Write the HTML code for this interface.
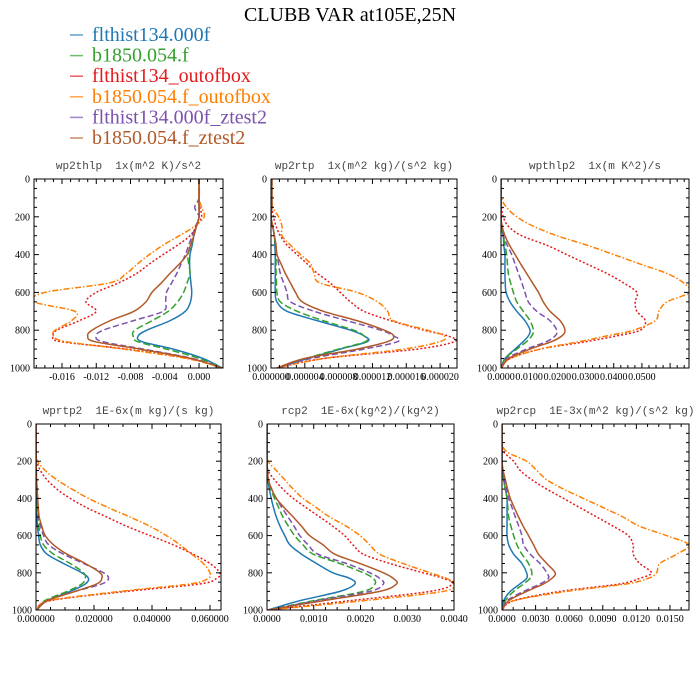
<!DOCTYPE html>
<html><head><meta charset="utf-8"><style>
body{margin:0;background:#fff;width:700px;height:700px;overflow:hidden}
svg{display:block}
.ttl{font-family:"Liberation Serif",serif;font-size:20px;fill:#000}
.leg{font-family:"Liberation Serif",serif;font-size:20px}
.pt{font-family:"Liberation Mono",monospace;font-size:11px;fill:#444;white-space:pre}
.tk{font-family:"Liberation Serif",serif;font-size:10px;fill:#000}
</style></head><body>
<svg id="chart" width="700" height="700" viewBox="0 0 700 700">
<text class="ttl" x="350" y="21" text-anchor="middle">CLUBB VAR at105E,25N</text>
<g id="legend"></g>
<g id="panels"></g>
</svg>
<script>
const seriesNames = ["flthist134.000f","b1850.054.f","flthist134_outofbox","b1850.054.f_outofbox","flthist134.000f_ztest2","b1850.054.f_ztest2"];
const levels = [0,100,150,200,250,300,350,400,450,500,550,600,650,700,750,800,830,860,900,950,1000];
const yTicks = [0,200,400,600,800,1000];

const wp2thlpValues = [
[0,0,0,0,-0.3,-0.6,-0.8,-1.05,-1.1,-1.05,-0.95,-0.85,-1.0,-1.6,-3.4,-6.1,-7.1,-6.7,-3.0,0.5,2.7],
[0,0,0,0,-0.3,-0.6,-0.9,-1.3,-1.2,-1.05,-1.4,-1.8,-2.5,-3.6,-5.5,-7.5,-7.7,-7.2,-3.8,0.1,2.7],
[0,0,0.1,0.3,-0.3,-1.05,-2.5,-4.2,-5.8,-7.3,-9.4,-12,-13.2,-12,-14,-16.6,-17,-16.2,-8.4,-1.05,2.7],
[0,0,0.3,0.6,-0.5,-2.3,-4.2,-5.8,-7.2,-8.5,-10.5,-18,-19.2,-14.5,-14.9,-16.8,-17,-15.6,-8.8,-1.4,2.7],
[0,0,-0.5,0,-0.4,-0.8,-1.2,-1.6,-2.1,-2.6,-3.2,-3.8,-3.9,-4.2,-7.7,-11.2,-12,-11.3,-6.5,-0.7,2.7],
[0,0,0,0,-0.3,-0.6,-1.0,-1.4,-2.3,-3.4,-4.4,-5.5,-6.2,-7.6,-10.4,-12.5,-13,-12.2,-6.9,-0.9,2.7]];
const wp2rtpValues = [
[0.1,0.1,0.1,0,0.2,0.4,0.45,0.5,0.5,0.5,0.5,0.5,0.7,1.9,5.5,9.4,11,11.4,8.2,4.3,0.7],
[0.1,0.1,0.1,0,0.2,0.4,0.5,0.6,0.6,0.6,0.65,0.7,1.1,3.1,6.2,9.8,11,11.2,8,4.1,0.7],
[0.1,0.1,0.1,0.3,0.6,1.1,1.9,3.1,4.3,5.5,7,8.2,9.4,11,14.2,18.1,20.9,21.7,17.3,6.2,0.7],
[0.1,0.1,0.2,0.9,1.3,1.3,2.3,3.5,4.7,5.1,5.8,10.2,12.6,13.8,14.5,18.5,20.5,20,15.7,6.2,0.7],
[0.1,0.1,0.1,0,0.2,0.4,0.55,0.7,0.9,1.1,1.5,1.9,2.3,5.1,9,13,14.5,15,11,4.7,0.7],
[0.1,0.1,0.1,0,0.2,0.4,0.6,0.7,1.2,1.7,2.3,2.9,3.7,6.2,10.2,13.4,14.5,13.8,10.2,3.9,0.7]];
const wpthlp2Values = [
[0,0,0,0,0,0.08,0.1,0.14,0.14,0.14,0.15,0.18,0.32,0.56,0.85,1.03,0.97,0.79,0.5,0.14,0.02],
[0,0,0,0,0,0.08,0.14,0.2,0.23,0.26,0.34,0.44,0.56,0.79,1.03,1.15,1.09,0.91,0.56,0.14,0.02],
[0,0,0.02,0.08,0.26,0.73,1.62,2.33,3.05,3.76,4.35,4.82,4.76,4.82,5.12,4.94,4.1,3.05,1.39,0.32,0.02],
[0,0.02,0.2,0.56,1.15,1.98,3.05,4.0,4.94,5.89,6.48,6.69,5.89,5.6,5.47,4.7,3.76,2.8,1.39,0.32,0.02],
[0,0,0,0,0.02,0.08,0.22,0.38,0.5,0.62,0.74,0.85,0.97,1.27,1.74,1.98,1.92,1.62,0.91,0.2,0.02],
[0,0,0,0,0.04,0.14,0.3,0.5,0.7,0.91,1.12,1.33,1.5,1.74,2.1,2.27,2.16,1.8,1.03,0.26,0.02]];
const wprtp2Values = [
[0,0,0,0,0.01,0.01,0.02,0.02,0.03,0.03,0.05,0.09,0.15,0.38,0.95,1.58,1.81,1.7,1.18,0.38,0.03],
[0,0,0,0,0.01,0.01,0.02,0.02,0.04,0.06,0.1,0.15,0.26,0.61,1.18,1.64,1.7,1.58,1.07,0.3,0.03],
[0,0,0,0.03,0.15,0.38,0.72,1.18,1.75,2.44,3.13,3.93,4.74,5.42,6.0,6.34,6.23,5.65,3.13,0.49,0.03],
[0,0,0,0.05,0.32,0.72,1.24,1.81,2.5,3.24,3.93,4.5,4.97,5.37,5.77,6.0,5.94,5.31,2.9,0.44,0.03],
[0,0,0,0,0.01,0.02,0.03,0.05,0.07,0.09,0.16,0.26,0.44,0.95,1.64,2.33,2.5,2.27,1.35,0.38,0.03],
[0,0,0,0,0.01,0.02,0.04,0.06,0.08,0.11,0.2,0.32,0.61,1.07,1.7,2.21,2.27,2.1,1.35,0.38,0.03]];
const rcp2Values = [
[0,0,0,0,0.01,0.02,0.05,0.09,0.14,0.2,0.28,0.38,0.49,0.74,1.06,1.41,1.77,1.88,1.56,0.7,0.02],
[0,0,0,0,0.01,0.02,0.08,0.16,0.25,0.34,0.46,0.59,0.77,0.99,1.56,2.06,2.27,2.31,2.06,0.99,0.02],
[0,0,0,0,0.02,0.16,0.34,0.56,0.84,1.13,1.41,1.66,1.84,2.06,2.63,3.34,3.77,3.97,3.49,1.77,0.02],
[0,0,0,0.02,0.2,0.38,0.56,0.77,1.06,1.34,1.7,1.99,2.2,2.41,2.91,3.49,3.84,4.0,3.77,2.06,0.02],
[0,0,0,0,0.01,0.03,0.1,0.2,0.32,0.45,0.58,0.7,0.88,1.09,1.7,2.2,2.41,2.49,2.2,1.06,0.02],
[0,0,0,0,0.01,0.03,0.1,0.2,0.37,0.56,0.74,0.91,1.2,1.45,1.99,2.49,2.7,2.77,2.41,1.2,0.02]];
const wp2rcpValues = [
[0,0,0,0,0.05,0.15,0.3,0.45,0.45,0.45,0.45,0.45,0.6,1.04,1.78,2.2,2.2,1.6,0.74,0.15,0],
[0,0,0,0,0.05,0.15,0.3,0.45,0.52,0.6,0.8,1.04,1.34,1.78,2.37,2.67,2.5,1.93,1.04,0.3,0],
[0,0,0.15,1.04,1.63,2.67,4.0,5.49,6.97,8.46,9.94,11.28,11.72,11.72,12.3,13.35,12.3,10.5,5.19,1.04,0],
[0,0,0.45,2.2,3.1,4.0,5.49,7.27,9.05,10.8,12.3,14.7,16.7,15.6,14.1,13.8,13.05,11.1,5.79,1.04,0],
[0,0,0,0,0.05,0.2,0.4,0.6,0.9,1.19,1.5,1.78,1.93,2.52,3.4,4.0,4.15,3.4,1.93,0.45,0],
[0,0,0,0,0.1,0.3,0.5,0.74,1.1,1.48,1.9,2.37,2.82,3.26,4.0,4.75,4.45,3.7,2.2,0.6,0]];

const xTicks1 = [-16,-12,-8,-4,0];
const xTicks2 = [0,4,8,12,16,20];
const xTicks3 = [0,1,2,3,4,5];
const xTicks4 = [0,2,4,6];
const xTicks5 = [0,1,2,3,4];
const xTicks6 = [0,3,6,9,12,15];

const colors = ["#1f78b4","#33a02c","#e41a1c","#ff7f00","#7b52ae","#b15928"];
const dashes = ["", "7 3", "2 2", "6 2 1.5 2", "6 3", ""];

const panels = [
 {name:"wp2thlp",title:"wp2thlp  1x(m^2 K)/s^2",vals:wp2thlpValues,ticks:xTicks1,mult:1e-3,dec:3,x0:34,x1:223,y0:179,y1:368,d0:-19.27,d1:2.8,minor:4},
 {name:"wp2rtp",title:"wp2rtp  1x(m^2 kg)/(s^2 kg)",vals:wp2rtpValues,ticks:xTicks2,mult:1e-6,dec:6,x0:271,x1:457,y0:179,y1:368,d0:0,d1:22.0,minor:4},
 {name:"wpthlp2",title:"wpthlp2  1x(m K^2)/s",vals:wpthlp2Values,ticks:xTicks3,mult:1e-2,dec:4,x0:501,x1:689,y0:179,y1:368,d0:0,d1:6.67,minor:4},
 {name:"wprtp2",title:"wprtp2  1E-6x(m kg)/(s kg)",vals:wprtp2Values,ticks:xTicks4,mult:1e-2,dec:6,x0:36,x1:221,y0:424,y1:610,d0:0,d1:6.38,minor:4},
 {name:"rcp2",title:"rcp2  1E-6x(kg^2)/(kg^2)",vals:rcp2Values,ticks:xTicks5,mult:1e-3,dec:4,x0:267,x1:454,y0:424,y1:610,d0:0,d1:4.0,minor:4},
 {name:"wp2rcp",title:"wp2rcp  1E-3x(m^2 kg)/(s^2 kg)",vals:wp2rcpValues,ticks:xTicks6,mult:1e-3,dec:4,x0:502,x1:689,y0:424,y1:610,d0:0,d1:16.7,minor:3}
];

const NS="http://www.w3.org/2000/svg";
function mk(tag,attrs,parent){const e=document.createElementNS(NS,tag);for(const k in attrs)e.setAttribute(k,attrs[k]);parent.appendChild(e);return e;}

const leg=document.getElementById('legend');
seriesNames.forEach((n,i)=>{
  const y=35+i*20.6;
  const ln=mk('line',{x1:70,x2:83,y1:y,y2:y,stroke:colors[i],'stroke-width':1.5,opacity:0.7},leg);
  
  
  const t=mk('text',{x:92,y:y+6,class:'leg',fill:colors[i]},leg);
  t.textContent=n;
  
  
});

function smoothPath(pts){
  let d="M"+pts[0][0].toFixed(2)+","+pts[0][1].toFixed(2);
  for(let i=0;i<pts.length-1;i++){
    const p0=pts[Math.max(0,i-1)],p1=pts[i],p2=pts[i+1],p3=pts[Math.min(pts.length-1,i+2)];
    const c1=[p1[0]+(p2[0]-p0[0])/6,p1[1]+(p2[1]-p0[1])/6];
    const c2=[p2[0]-(p3[0]-p1[0])/6,p2[1]-(p3[1]-p1[1])/6];
    d+=" C"+c1[0].toFixed(2)+","+c1[1].toFixed(2)+" "+c2[0].toFixed(2)+","+c2[1].toFixed(2)+" "+p2[0].toFixed(2)+","+p2[1].toFixed(2);
  }
  return d;
}

const root=document.getElementById('panels');
panels.forEach((p,pi)=>{
  const g=mk('g',{},root);
  
  
  const xs=v=>p.x0+(v-p.d0)/(p.d1-p.d0)*(p.x1-p.x0);
  const ys=v=>p.y0+v/1000*(p.y1-p.y0);
  const cx=(p.x0+p.x1)/2;
  const tt=mk('text',{x:cx,y:p.y0-10,class:'pt','text-anchor':'middle'},g);
  tt.textContent=p.title;
  
  
  const cid='clip'+pi;
  const cp=mk('clipPath',{id:cid},g);
  mk('rect',{x:p.x0,y:p.y0,width:p.x1-p.x0,height:p.y1-p.y0},cp);
  const lines=mk('g',{'clip-path':'url(#'+cid+')'},g);
  p.vals.forEach((arr,si)=>{
    const pts=arr.map((v,k)=>[xs(v),ys(levels[k])]);
    const a={d:smoothPath(pts),fill:'none',stroke:colors[si],'stroke-width':1.5};
    if(dashes[si])a['stroke-dasharray']=dashes[si];
    const path=mk('path',a,lines);
    
    
  });
  const fr=mk('rect',{x:p.x0,y:p.y0,width:p.x1-p.x0,height:p.y1-p.y0,fill:'none',stroke:'#000','stroke-width':1},g);
  
  
  for(let v=0;v<=1000;v+=50){
    const y=ys(v),L=(v%200===0)?5:3;
    mk('line',{x1:p.x0,x2:p.x0+L,y1:y,y2:y,stroke:'#000','stroke-width':1},g);
    mk('line',{x1:p.x1,x2:p.x1-L,y1:y,y2:y,stroke:'#000','stroke-width':1},g);
  }
  yTicks.forEach(v=>{
    const t=mk('text',{x:p.x0-4,y:ys(v)+3.5,class:'tk','text-anchor':'end'},g);
    t.textContent=String(v);
    
    
  });
  const step=p.ticks[1]-p.ticks[0];
  const mstep=step/p.minor;
  for(let v=Math.ceil(p.d0/mstep)*mstep;v<=p.d1+1e-9;v+=mstep){
    const x=xs(v);
    const major=Math.abs(Math.round(v/step)*step-v)<1e-6;
    const L=major?5:3;
    mk('line',{x1:x,x2:x,y1:p.y1,y2:p.y1-L,stroke:'#000','stroke-width':1},g);
    mk('line',{x1:x,x2:x,y1:p.y0,y2:p.y0+L,stroke:'#000','stroke-width':1},g);
  }
  p.ticks.forEach(v=>{
    const t=mk('text',{x:xs(v),y:p.y1+12,class:'tk','text-anchor':'middle'},g);
    t.textContent=(v*p.mult).toFixed(p.dec);
    
    
  });
});
</script>
</body></html>
